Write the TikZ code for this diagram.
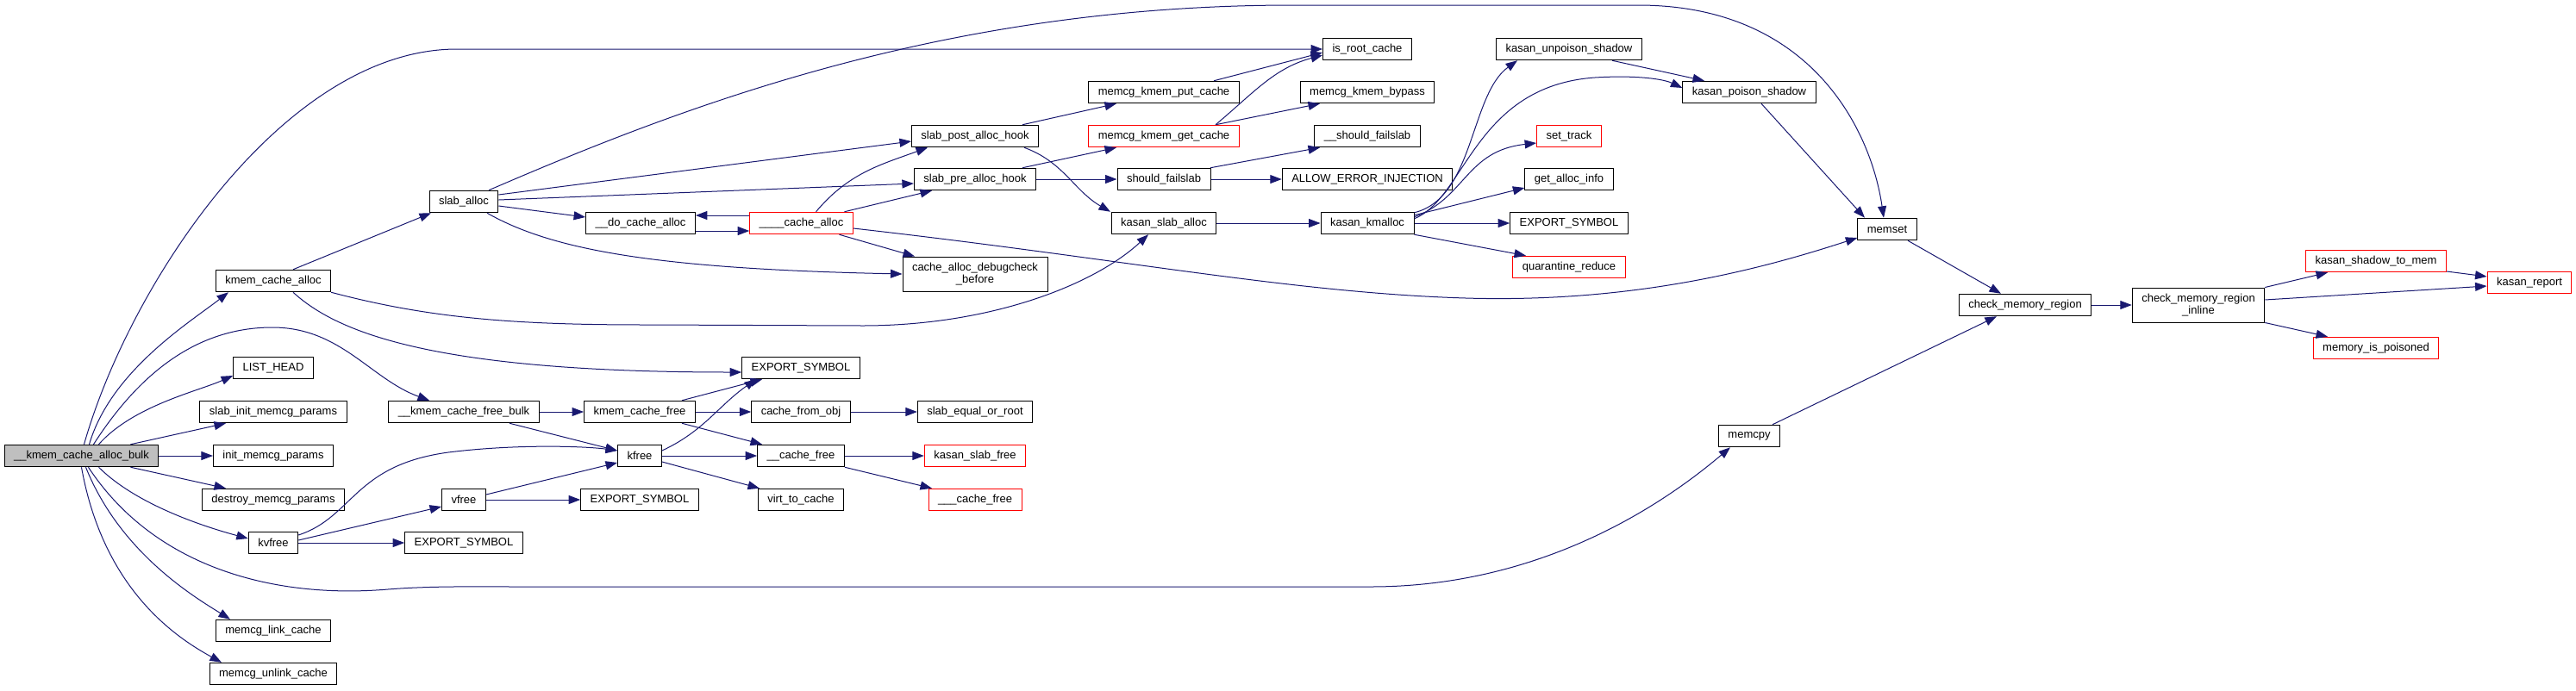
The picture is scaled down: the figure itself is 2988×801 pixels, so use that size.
\documentclass[tikz,border=0pt]{standalone}
\usepackage{fontspec}
\setmainfont{Liberation Sans}
\usetikzlibrary{arrows.meta}
\definecolor{cgEdge}{RGB}{25,25,112}
\definecolor{cgRootFill}{RGB}{191,191,191}
\tikzset{
  cgfn/.style={draw=black, fill=white, line width=1pt, minimum height=25.5pt,
               inner xsep=11pt, inner ysep=0pt, font=\fontsize{13}{14.5}\selectfont},
  cgred/.style={cgfn, draw=red},
  cgroot/.style={cgfn, fill=cgRootFill},
  cgtwo/.style={align=center, minimum height=40pt},
  cgcall/.style={draw=cgEdge, line width=1pt, -{Triangle[length=13.5pt,width=10pt]}},
}

\begin{document}
\begin{tikzpicture}[x=1pt,y=-1pt]
  \useasboundingbox (0,0) rectangle (2988,801);
  % rank 0 and 1
  \node[cgroot] (R) at (94.5,529) {\_\_kmem\_cache\_alloc\_bulk};
  \node[cgfn] (KCA) at (317,326) {kmem\_cache\_alloc};
  \node[cgfn] (LH) at (317,427) {LIST\_HEAD};
  \node[cgfn] (SIMP) at (317,478) {slab\_init\_memcg\_params};
  \node[cgfn] (IMP) at (317,529) {init\_memcg\_params};
  \node[cgfn] (DMP) at (317,580) {destroy\_memcg\_params};
  \node[cgfn] (KVF) at (317,630) {kvfree};
  \node[cgfn] (MLC) at (317,732) {memcg\_link\_cache};
  \node[cgfn] (MUC) at (317,782) {memcg\_unlink\_cache};
  % rank 2 and 3
  \node[cgfn] (SA) at (538,234) {slab\_alloc};
  \node[cgfn] (KCFB) at (538,478) {\_\_kmem\_cache\_free\_bulk};
  \node[cgfn] (VF) at (538,580) {vfree};
  \node[cgfn] (ESa) at (538,630) {EXPORT\_SYMBOL};
  \node[cgfn] (DCA) at (743,259) {\_\_do\_cache\_alloc};
  \node[cgfn] (KCF) at (742,478) {kmem\_cache\_free};
  \node[cgfn] (KF) at (742,529) {kfree};
  \node[cgfn] (ESb) at (742,580) {EXPORT\_SYMBOL};
  % rank 4 and 5
  \node[cgred] (CA4) at (929.5,259) {\_\_\_\_cache\_alloc};
  \node[cgfn] (ESc) at (929,427) {EXPORT\_SYMBOL};
  \node[cgfn] (CFO) at (929,478) {cache\_from\_obj};
  \node[cgfn] (CF2) at (929,529) {\_\_cache\_free};
  \node[cgfn] (VTC) at (929,580) {virt\_to\_cache};
  \node[cgfn] (SPAH) at (1131,158) {slab\_post\_alloc\_hook};
  \node[cgfn] (SPRAH) at (1131,208) {slab\_pre\_alloc\_hook};
  \node[cgfn, cgtwo] (CADB) at (1131,318) {cache\_alloc\_debugcheck\\\_before};
  \node[cgfn] (SEOR) at (1131,478) {slab\_equal\_or\_root};
  \node[cgred] (KSF) at (1131,529) {kasan\_slab\_free};
  \node[cgred] (CF3) at (1131,580) {\_\_\_cache\_free};
  % rank 6 and 7
  \node[cgfn] (MKPC) at (1350,107) {memcg\_kmem\_put\_cache};
  \node[cgred] (MKGC) at (1350,158) {memcg\_kmem\_get\_cache};
  \node[cgfn] (SF) at (1350,208) {should\_failslab};
  \node[cgfn] (KSA) at (1350,259) {kasan\_slab\_alloc};
  \node[cgfn] (IRC) at (1586,57) {is\_root\_cache};
  \node[cgfn] (MKB) at (1586,107) {memcg\_kmem\_bypass};
  \node[cgfn] (SSF) at (1586,158) {\_\_should\_failslab};
  \node[cgfn] (AEI) at (1586,208) {ALLOW\_ERROR\_INJECTION};
  \node[cgfn] (KK) at (1586,259) {kasan\_kmalloc};
  % rank 8 and up
  \node[cgfn] (KUS) at (1820,57) {kasan\_unpoison\_shadow};
  \node[cgred] (ST) at (1820,158) {set\_track};
  \node[cgfn] (GAI) at (1820,208) {get\_alloc\_info};
  \node[cgfn] (ESd) at (1820,259) {EXPORT\_SYMBOL};
  \node[cgred] (QR) at (1820,310) {quarantine\_reduce};
  \node[cgfn] (KPS) at (2029,107) {kasan\_poison\_shadow};
  \node[cgfn] (MCPY) at (2029,506) {memcpy};
  \node[cgfn] (MS) at (2189,266) {memset};
  \node[cgfn] (CMR) at (2349,354) {check\_memory\_region};
  \node[cgfn, cgtwo] (CMRI) at (2550,354) {check\_memory\_region\\\_inline};
  \node[cgred] (KSTM) at (2756,303) {kasan\_shadow\_to\_mem};
  \node[cgred] (MIP) at (2756,404) {memory\_is\_poisoned};
  \node[cgred] (KR) at (2934,328) {kasan\_report};

  % calls of the root
  \draw[cgcall] ([xshift=3pt]R.north) .. controls (150,330) and (330,57) .. (530,57) -- (IRC.west);
  \draw[cgcall] ([xshift=9pt]R.north) .. controls +(25,-85) and +(-45,35) .. ([xshift=-52pt]KCA.south);
  \draw[cgcall] ([xshift=14pt]R.north) .. controls (170,420) and (240,380) .. (316,380)
                .. controls (395,380) and (430,440) .. ([xshift=-40pt]KCFB.north);
  \draw[cgcall] ([xshift=20pt]R.north) .. controls +(40,-45) and +(-40,18) .. ([yshift=-9pt]LH.west);
  \draw[cgcall] ([xshift=57pt]R.north) -- ([xshift=-55pt]SIMP.south);
  \draw[cgcall] (R.east) -- (IMP.west);
  \draw[cgcall] ([xshift=57pt]R.south) -- ([xshift=-55pt]DMP.north);
  \draw[cgcall] ([xshift=20pt]R.south) .. controls +(45,45) and +(-45,-12) .. ([yshift=5pt]KVF.west);
  \draw[cgcall] ([xshift=8pt]R.south) .. controls (180,660) and (320,695) .. (450,684)
                .. controls (500,680) and (550,681) .. (600,681) -- (1590,681)
                .. controls (1760,681) and (1900,610) .. ([xshift=-22pt]MCPY.south);
  \draw[cgcall] ([xshift=5pt]R.south) .. controls +(40,100) and +(-40,-25) .. ([xshift=-50pt]MLC.north);
  \draw[cgcall] (R.south) .. controls +(25,140) and +(-55,-30) .. ([xshift=-60pt]MUC.north);

  % kmem_cache_alloc and slab_alloc
  \draw[cgcall] ([xshift=23pt]KCA.north) -- ([xshift=-38pt]SA.south);
  \draw[cgcall] ([xshift=23pt]KCA.south) .. controls (390,385) and (500,432) .. ([yshift=-5pt]ESc.west);
  \draw[cgcall] (KCA.south east) .. controls (500,370) and (600,377) .. (750,377) -- (1000,378)
                .. controls (1150,378) and (1270,330) .. ([xshift=-18pt]KSA.south);
  \draw[cgcall] ([xshift=29pt]SA.north) .. controls (800,120) and (1100,6) .. (1500,6) -- (1900,6)
                .. controls (2100,6) and (2170,150) .. ([xshift=-4pt]MS.north);
  \draw[cgcall] ([yshift=8pt]SA.east) -- ([yshift=-6pt]SPAH.west);
  \draw[cgcall] ([yshift=2pt]SA.east) -- ([yshift=-5pt]SPRAH.west);
  \draw[cgcall] ([yshift=-5pt]SA.east) -- ([yshift=7pt]DCA.west);
  \draw[cgcall] ([xshift=27pt]SA.south) .. controls (640,290) and (760,312) .. (CADB.west);

  % ____cache_alloc
  \draw[cgcall] ([yshift=9pt]CA4.west) -- ([yshift=9pt]DCA.east);
  \draw[cgcall] ([yshift=-9pt]DCA.east) -- ([yshift=-9pt]CA4.west);
  \draw[cgcall] ([xshift=17pt]CA4.north) to[out=50,in=200] ([xshift=-55pt]SPAH.south);
  \draw[cgcall] ([xshift=50pt]CA4.north) -- ([xshift=-50pt]SPRAH.south);
  \draw[cgcall] ([xshift=44pt]CA4.south) -- ([xshift=-70pt]CADB.north);
  \draw[cgcall] ([yshift=-6pt]CA4.east) .. controls (1300,300) and (1500,340) .. (1700,346)
                .. controls (1900,352) and (2050,310) .. ([yshift=-10pt]MS.west);

  % hooks
  \draw[cgcall] ([xshift=55pt]SPAH.north) -- ([xshift=-55pt]MKPC.south);
  \draw[cgcall] ([xshift=57pt]SPAH.south) to[out=-20,in=150] ([xshift=-62pt]KSA.north);
  \draw[cgcall] ([xshift=55pt]SPRAH.north) -- ([xshift=-55pt]MKGC.south);
  \draw[cgcall] (SPRAH.east) -- (SF.west);
  \draw[cgcall] ([xshift=58pt]MKPC.north) -- ([yshift=-4pt]IRC.west);
  \draw[cgcall] ([xshift=60pt]MKGC.north) to[out=40,in=195] ([yshift=-7pt]IRC.west);
  \draw[cgcall] ([xshift=60pt]MKGC.north) -- ([xshift=-55pt]MKB.south);
  \draw[cgcall] ([xshift=54pt]SF.north) -- ([xshift=-55pt]SSF.south);
  \draw[cgcall] (SF.east) -- (AEI.west);
  \draw[cgcall] (KSA.east) -- (KK.west);

  % kasan_kmalloc
  \draw[cgcall] ([yshift=-1pt]KK.north east) .. controls (1710,230) and (1705,110) .. ([xshift=-60pt]KUS.south);
  \draw[cgcall] ([yshift=-8pt]KK.north east) .. controls (1700,230) and (1710,100) .. (1850,90)
                .. controls (1900,87) and (1930,92) .. ([yshift=5pt]KPS.west);
  \draw[cgcall] ([yshift=-6pt]KK.north east) .. controls (1700,230) and (1700,175) .. ([yshift=-8pt]ST.west);
  \draw[cgcall] ([yshift=-4pt]KK.north east) -- ([yshift=-10pt]GAI.west);
  \draw[cgcall] (KK.east) -- (ESd.west);
  \draw[cgcall] (KK.south east) -- ([xshift=-50pt]QR.north);
  \draw[cgcall] ([xshift=50pt]KUS.south) -- ([xshift=-52pt]KPS.north);
  \draw[cgcall] ([xshift=14pt]KPS.south) -- ([xshift=-26pt]MS.north);

  % memory checks
  \draw[cgcall] ([xshift=24pt]MS.south) -- ([xshift=-28pt]CMR.north);
  \draw[cgcall] ([xshift=27pt]MCPY.north) -- ([xshift=-33pt]CMR.south);
  \draw[cgcall] (CMR.east) -- (CMRI.west);
  \draw[cgcall] (CMRI.north east) -- ([xshift=-56pt]KSTM.south);
  \draw[cgcall] ([yshift=6pt]CMRI.east) -- ([yshift=-4pt]KR.west);
  \draw[cgcall] (CMRI.south east) -- ([xshift=-56pt]MIP.north);
  \draw[cgcall] ([yshift=-12pt]KSTM.east) -- ([yshift=7pt]KR.west);

  % freeing side
  \draw[cgcall] (KCFB.east) -- (KCF.west);
  \draw[cgcall] ([xshift=53pt]KCFB.south) -- ([yshift=6pt]KF.west);
  \draw[cgcall] ([xshift=49pt]KCF.north) -- ([xshift=-45pt]ESc.south);
  \draw[cgcall] (KCF.east) -- (CFO.west);
  \draw[cgcall] ([xshift=49pt]KCF.south) -- ([xshift=-45pt]CF2.north);
  \draw[cgcall] (CFO.east) -- (SEOR.west);
  \draw[cgcall] ([yshift=6pt]KF.east) to[out=25,in=215] ([xshift=-52pt]ESc.south);
  \draw[cgcall] (KF.east) -- (CF2.west);
  \draw[cgcall] ([yshift=-7pt]KF.east) -- ([xshift=-48pt]VTC.north);
  \draw[cgcall] (CF2.east) -- (KSF.west);
  \draw[cgcall] (CF2.south east) -- ([xshift=-50pt]CF3.north);
  \draw[cgcall] ([yshift=9pt]KVF.east) .. controls (410,600) and (410,540) .. (520,525)
                .. controls (600,515) and (680,518) .. ([yshift=6pt]KF.west);
  \draw[cgcall] ([yshift=3pt]KVF.east) -- ([yshift=-8pt]VF.west);
  \draw[cgcall] (KVF.east) -- (ESa.west);
  \draw[cgcall] ([yshift=6pt]VF.east) -- ([yshift=-8pt]KF.west);
  \draw[cgcall] (VF.east) -- (ESb.west);
\end{tikzpicture}
\end{document}
